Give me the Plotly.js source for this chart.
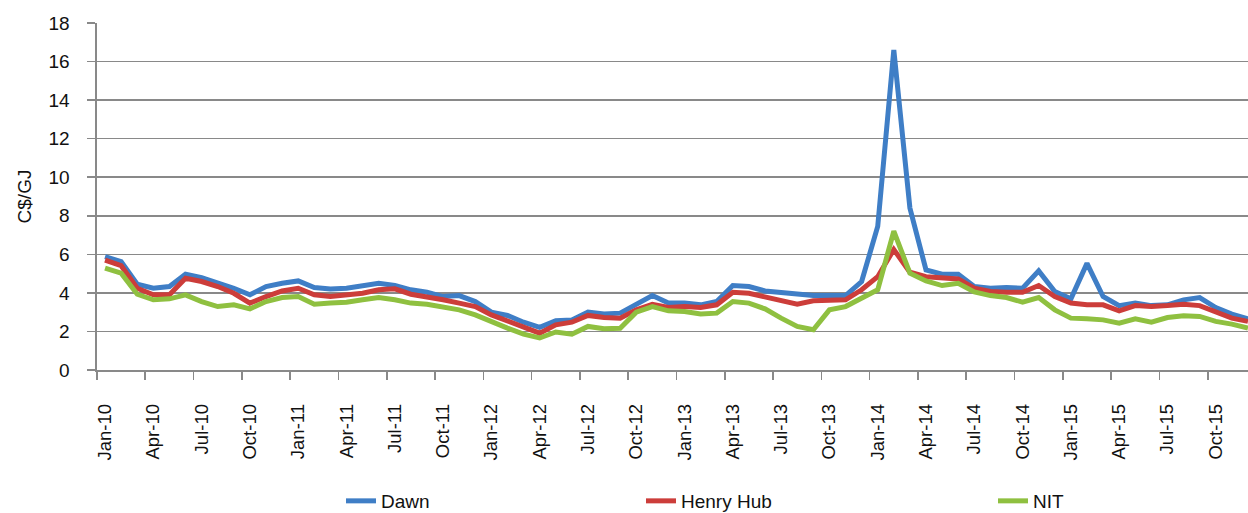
<!DOCTYPE html>
<html>
<head>
<meta charset="utf-8">
<script src="https://cdn.plot.ly/plotly-3.0.1.min.js"></script>
<style>
  html, body { margin: 0; padding: 0; background: #ffffff; overflow: hidden; }
  #chart { width: 1262px; height: 513px; }
</style>
</head>
<body>
<div id="chart"></div>
<script>
// Monthly price series, Jan-10 to Dec-15 (C$/GJ)
const months = [
  'Jan-10','Feb-10','Mar-10','Apr-10','May-10','Jun-10','Jul-10','Aug-10','Sep-10','Oct-10','Nov-10','Dec-10',
  'Jan-11','Feb-11','Mar-11','Apr-11','May-11','Jun-11','Jul-11','Aug-11','Sep-11','Oct-11','Nov-11','Dec-11',
  'Jan-12','Feb-12','Mar-12','Apr-12','May-12','Jun-12','Jul-12','Aug-12','Sep-12','Oct-12','Nov-12','Dec-12',
  'Jan-13','Feb-13','Mar-13','Apr-13','May-13','Jun-13','Jul-13','Aug-13','Sep-13','Oct-13','Nov-13','Dec-13',
  'Jan-14','Feb-14','Mar-14','Apr-14','May-14','Jun-14','Jul-14','Aug-14','Sep-14','Oct-14','Nov-14','Dec-14',
  'Jan-15','Feb-15','Mar-15','Apr-15','May-15','Jun-15','Jul-15','Aug-15','Sep-15','Oct-15','Nov-15','Dec-15'
];

const dawn = [
  5.88, 5.62, 4.45, 4.24, 4.33, 4.97, 4.79, 4.53, 4.24, 3.90, 4.33, 4.50,
  4.62, 4.28, 4.20, 4.24, 4.38, 4.50, 4.38, 4.16, 4.03, 3.81, 3.86, 3.55,
  3.00, 2.83, 2.48, 2.21, 2.55, 2.60, 3.00, 2.90, 2.95, 3.38, 3.86, 3.47,
  3.47, 3.38, 3.55, 4.38, 4.33, 4.10, 4.03, 3.90, 3.86, 3.86, 3.86, 4.59,
  7.45, 16.60, 8.40, 5.19, 4.97, 4.97, 4.33, 4.24, 4.28, 4.24, 5.14, 4.07,
  3.69, 5.53, 3.81, 3.34, 3.47, 3.34, 3.38, 3.64, 3.76, 3.24, 2.90, 2.66
];

const henryHub = [
  5.70, 5.41, 4.24, 3.90, 3.90, 4.76, 4.59, 4.33, 3.98, 3.47, 3.81, 4.10,
  4.24, 3.90, 3.81, 3.90, 3.98, 4.16, 4.21, 3.93, 3.81, 3.64, 3.47, 3.29,
  2.86, 2.55, 2.26, 1.91, 2.34, 2.48, 2.83, 2.72, 2.69, 3.12, 3.41, 3.24,
  3.29, 3.24, 3.38, 4.03, 3.98, 3.81, 3.64, 3.41, 3.59, 3.64, 3.64, 4.16,
  4.84, 6.25, 5.07, 4.84, 4.76, 4.72, 4.24, 4.07, 4.03, 4.03, 4.38, 3.81,
  3.47, 3.38, 3.38, 3.07, 3.34, 3.29, 3.34, 3.41, 3.34, 3.00, 2.69, 2.52
];

const nit = [
  5.28, 5.02, 3.93, 3.64, 3.69, 3.90, 3.55, 3.29, 3.38, 3.17, 3.55, 3.76,
  3.81, 3.41, 3.47, 3.52, 3.64, 3.76, 3.64, 3.47, 3.41, 3.24, 3.12, 2.86,
  2.48, 2.17, 1.86, 1.66, 1.97, 1.86, 2.26, 2.14, 2.17, 3.00, 3.29, 3.07,
  3.03, 2.90, 2.95, 3.55, 3.47, 3.17, 2.69, 2.26, 2.09, 3.12, 3.29, 3.72,
  4.16, 7.20, 5.02, 4.62, 4.38, 4.50, 4.05, 3.86, 3.76, 3.52, 3.76, 3.12,
  2.69, 2.66, 2.60, 2.43, 2.66, 2.48, 2.72, 2.81, 2.78, 2.52, 2.38, 2.17
];

const yTicks = [0, 2, 4, 6, 8, 10, 12, 14, 16, 18];

// every third month is labelled; tick marks sit on the category boundaries
const idx = months.map((_, i) => i);
const labelIdx = idx.filter(i => i % 3 === 0);
const labelText = labelIdx.map(i => months[i]);
const boundaries = labelIdx.map(i => i - 0.5).concat([months.length - 0.5]);

const FONT = 'Liberation Sans, Arial, Helvetica, sans-serif';
const GRID = '#898989';
const TEXT = '#111111';

const traces = [
  { name: 'Dawn', y: dawn, color: '#3f7ec6', legend: 'legend' },
  { name: 'Henry Hub', y: henryHub, color: '#cc3d3a', legend: 'legend2' },
  { name: 'NIT', y: nit, color: '#8fc040', legend: 'legend3' }
].map(s => ({
  type: 'scatter',
  mode: 'lines',
  name: s.name,
  x: idx,
  y: s.y,
  legend: s.legend,
  line: { color: s.color, width: 5 },
  hoverinfo: 'skip'
}));

const M = { l: 97, r: 6, t: 23, b: 143 };
const H = 513;
const plotW = 1262 - M.l - M.r;
const plotH = H - M.t - M.b;
const legendX = px => (px - M.l) / plotW;
const legendY = py => (H - M.b - py) / plotH;

const legendBase = {
  orientation: 'h',
  xanchor: 'left',
  yanchor: 'middle',
  y: legendY(501),
  bgcolor: 'rgba(0,0,0,0)',
  borderwidth: 0,
  font: { family: FONT, size: 19, color: TEXT }
};

const layout = {
  width: 1262,
  height: H,
  autosize: false,
  paper_bgcolor: '#ffffff',
  plot_bgcolor: '#ffffff',
  margin: Object.assign({ autoexpand: false }, M),
  font: { family: FONT, size: 19, color: TEXT },
  showlegend: true,
  legend: Object.assign({}, legendBase, { x: legendX(341) }),
  legend2: Object.assign({}, legendBase, { x: legendX(641) }),
  legend3: Object.assign({}, legendBase, { x: legendX(993) }),
  xaxis: {
    type: 'linear',
    automargin: false,
    range: [-0.5, months.length - 0.5],
    tickmode: 'array',
    tickvals: labelIdx,
    ticktext: labelText,
    tickangle: -90,
    ticks: 'outside',
    ticklen: 8,
    tickcolor: 'rgba(0,0,0,0)',
    ticklabelstandoff: 17,
    tickfont: { family: FONT, size: 18.5, color: TEXT },
    showgrid: false,
    zeroline: false,
    showline: true,
    linecolor: GRID,
    linewidth: 1.6,
    minor: {
      tickmode: 'array',
      tickvals: boundaries,
      ticks: 'outside',
      ticklen: 8,
      tickwidth: 1.6,
      tickcolor: GRID,
      showgrid: false
    },
    fixedrange: true
  },
  yaxis: {
    automargin: false,
    range: [0, 18],
    tickmode: 'array',
    tickvals: yTicks,
    ticks: 'outside',
    ticklen: 8,
    tickwidth: 1.6,
    tickcolor: GRID,
    ticklabelstandoff: 14,
    tickfont: { family: FONT, size: 19, color: TEXT },
    showgrid: true,
    gridcolor: GRID,
    gridwidth: 1.6,
    zeroline: false,
    showline: true,
    linecolor: GRID,
    linewidth: 1.6,
    title: { text: 'C$/GJ', font: { family: FONT, size: 19, color: TEXT }, standoff: 12 },
    fixedrange: true
  }
};

Plotly.newPlot('chart', traces, layout, { displayModeBar: false, staticPlot: true });
</script>
</body>
</html>
